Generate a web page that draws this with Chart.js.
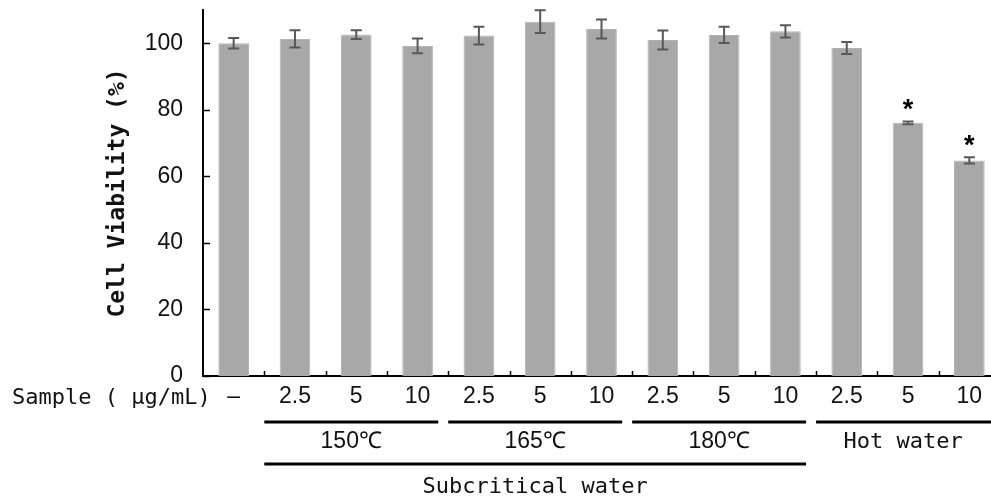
<!DOCTYPE html>
<html>
<head>
<meta charset="utf-8">
<script src="https://cdn.jsdelivr.net/npm/chart.js@4.4.1/dist/chart.umd.min.js"></script>
<style>
  html, body { margin: 0; padding: 0; background: #fff; overflow: hidden; }
  #wrap { width: 991px; height: 497px; overflow: hidden; }
</style>
</head>
<body>
<div id="wrap"><canvas id="chart" width="1000" height="497"></canvas></div>
<script>
// concentration labels under each bar
const doses = ['–', '2.5', '5', '10', '2.5', '5', '10', '2.5', '5', '10', '2.5', '5', '10'];
// cell viability (%) and its error
const viability = [100.0, 101.3, 102.6, 99.2, 102.3, 106.5, 104.3, 101.0, 102.5, 103.6, 98.6, 76.1, 64.8];
const errors    = [1.6, 2.6, 1.35, 2.2, 2.7, 3.4, 2.85, 2.85, 2.45, 1.85, 1.8, 0.4, 0.95];
const marks     = ['', '', '', '', '', '', '', '', '', '', '', '*', '*'];
const yTicks = [0, 20, 40, 60, 80, 100];
// groups under the axis (bar index from..to)
const groups = [
  { label: '150℃', from: 1, to: 3 },
  { label: '165℃', from: 4, to: 6 },
  { label: '180℃', from: 7, to: 9 },
  { label: 'Hot water', from: 10, to: 12 }
];
const outerGroups = [
  { label: 'Subcritical water', from: 1, to: 9 }
];
const sampleLabel = 'Sample ( μg/mL)';

const MONO = "'DejaVu Sans Mono', 'Liberation Mono', monospace";
const SANS = "'Liberation Sans', Arial, sans-serif";

const extras = {
  id: 'extras',
  afterDraw(chart) {
    const { ctx, chartArea: area, scales: { x, y } } = chart;
    const cat = (area.right - area.left) / doses.length;
    ctx.save();
    ctx.strokeStyle = '#000';
    ctx.lineWidth = 1.5;
    // inward ticks on y
    yTicks.forEach(v => {
      const py = Math.round(y.getPixelForValue(v)) + 0.5;
      ctx.beginPath(); ctx.moveTo(area.left, py); ctx.lineTo(area.left + 7, py); ctx.stroke();
    });
    // small ticks between categories
    for (let i = 1; i <= doses.length; i++) {
      const px = Math.round(area.left + i * cat) + 0.5;
      ctx.beginPath(); ctx.moveTo(px, area.bottom); ctx.lineTo(px, area.bottom - 5); ctx.stroke();
    }
    // error bars
    ctx.strokeStyle = '#585858';
    ctx.lineWidth = 2;
    viability.forEach((v, i) => {
      const px = x.getPixelForValue(i);
      const top = y.getPixelForValue(v + errors[i]);
      const bot = y.getPixelForValue(v - errors[i]);
      ctx.beginPath();
      ctx.moveTo(px, top); ctx.lineTo(px, bot);
      ctx.moveTo(px - 5.5, top); ctx.lineTo(px + 5.5, top);
      ctx.moveTo(px - 5.5, bot); ctx.lineTo(px + 5.5, bot);
      ctx.stroke();
      if (marks[i]) {
        ctx.fillStyle = '#000';
        ctx.font = 'bold 27px ' + SANS;
        ctx.textAlign = 'center';
        ctx.textBaseline = 'alphabetic';
        ctx.fillText(marks[i], px, top - 3);
      }
    });
    // sample label
    ctx.fillStyle = '#111';
    ctx.font = '22px ' + MONO;
    ctx.textAlign = 'left';
    ctx.textBaseline = 'middle';
    ctx.fillText(sampleLabel, 12, area.bottom + 22);
    // group lines
    ctx.strokeStyle = '#000';
    ctx.lineWidth = 3;
    const drawGroup = (g, lineY, textY, font) => {
      const last = g.to === doses.length - 1;
      const x0 = area.left + g.from * cat;
      const x1 = area.left + (g.to + 1) * cat - (last ? 0 : 10);
      ctx.beginPath(); ctx.moveTo(x0, lineY); ctx.lineTo(x1, lineY); ctx.stroke();
      ctx.font = font;
      ctx.textAlign = 'center';
      ctx.fillText(g.label, last ? (x0 + x1 - 10) / 2 : (x0 + x1) / 2, textY);
    };
    groups.forEach(g => drawGroup(g, area.bottom + 46, area.bottom + 66,
      g.label.indexOf('℃') >= 0 ? '23px ' + SANS : '22px ' + MONO));
    outerGroups.forEach(g => drawGroup(g, area.bottom + 88, area.bottom + 111, '22px ' + MONO));
    ctx.restore();
  }
};

new Chart(document.getElementById('chart'), {
  type: 'bar',
  data: {
    labels: doses,
    datasets: [{
      data: viability,
      backgroundColor: '#a8a8a8',
      borderColor: '#b3b3b3',
      borderWidth: 1,
      barPercentage: 0.5,
      categoryPercentage: 1
    }]
  },
  options: {
    responsive: false,
    animation: false,
    devicePixelRatio: 1,
    layout: { padding: { top: 10, left: 0, right: 0, bottom: 0 } },
    plugins: { legend: { display: false }, tooltip: { enabled: false } },
    scales: {
      x: {
        grid: { display: false, drawTicks: false },
        border: { color: '#000', width: 2 },
        ticks: { color: '#111', font: { family: SANS, size: 23 }, padding: 7, maxRotation: 0, autoSkip: false },
        afterFit: s => { s.height = 121; s.paddingLeft = 0; s.paddingRight = 0; }
      },
      y: {
        min: 0, max: 110,
        grid: { display: false, drawTicks: false },
        border: { color: '#000', width: 2 },
        afterBuildTicks: s => { s.ticks = yTicks.map(v => ({ value: v })); },
        ticks: { color: '#111', font: { family: SANS, size: 23 }, padding: 20 },
        title: {
          display: true, text: 'Cell Viability (%)', color: '#111',
          font: { family: MONO, size: 23, weight: 'bold' },
          padding: { top: 104, bottom: 0 }
        },
        afterFit: s => { s.width = 203; s.paddingTop = 0; s.paddingBottom = 0; }
      }
    }
  },
  plugins: [extras]
});
</script>
</body>
</html>
